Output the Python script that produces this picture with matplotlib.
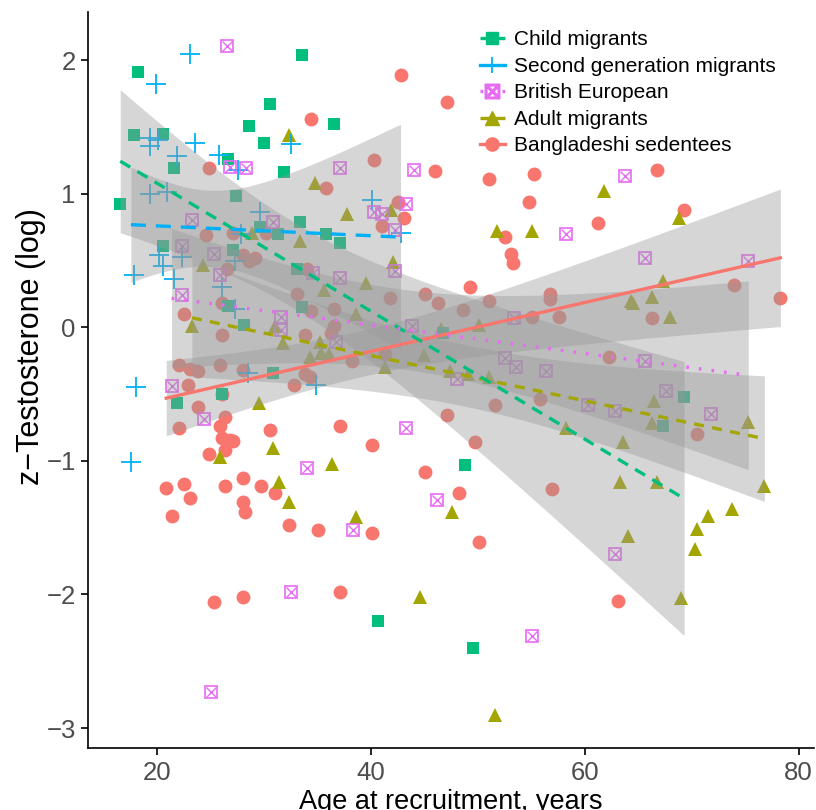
import numpy as np
import matplotlib
matplotlib.use("Agg")
import matplotlib.pyplot as plt
from matplotlib.lines import Line2D

plt.rcParams['font.family'] = ['Liberation Sans', 'DejaVu Sans']

# ---- data: (age, z-testosterone) per group ----
child_age = [18.3, 17.9, 20.6, 26.7, 21.6, 28.6, 30.0, 30.6, 27.4, 16.6, 29.7, 20.6, 27.1, 26.7,
             28.2, 21.9, 26.1, 33.6, 36.6, 31.9, 33.4, 31.3, 35.8, 37.1, 33.1, 33.6, 30.9, 40.7,
             46.8, 48.8, 49.6, 69.3, 67.3]
child_z = [1.91, 1.44, 1.45, 1.26, 1.19, 1.51, 1.38, 1.67, 0.98, 0.92, 0.75, 0.61, 0.58, 0.16,
           0.02, -0.57, -0.50, 2.04, 1.52, 1.16, 0.79, 0.70, 0.70, 0.63, 0.44, 0.15, -0.34, -2.20,
           -0.04, -1.03, -2.40, -0.52, -0.74]

second_age = [23.1, 19.9, 19.4, 19.4, 20.1, 23.6, 21.9, 25.8, 27.6, 19.4, 21.0, 29.7, 27.9, 20.2,
              20.6, 22.4, 27.3, 17.9, 21.6, 26.1, 27.3, 28.5, 18.1, 17.6, 32.6, 40.1, 42.8, 34.9]
second_z = [2.05, 1.82, 1.42, 1.36, 1.40, 1.38, 1.28, 1.29, 1.18, 1.00, 1.01, 0.86, 0.70, 0.54,
            0.46, 0.53, 0.50, 0.39, 0.36, 0.30, 0.14, -0.34, -0.45, -1.01, 1.37, 0.95, 0.71, -0.43]

british_age = [26.6, 26.9, 28.4, 23.3, 22.4, 25.4, 25.9, 22.4, 21.4, 24.4, 25.1, 37.1, 44.1, 43.3,
               40.3, 41.1, 42.3, 30.9, 42.3, 34.6, 37.1, 31.6, 31.6, 43.9, 36.8, 43.3, 34.1, 46.2,
               38.4, 32.6, 63.8, 58.3, 53.4, 52.6, 53.6, 56.4, 48.1, 60.3, 62.8, 65.6, 75.3, 65.6,
               67.6, 71.8, 62.8, 55.1]
british_z = [2.11, 1.20, 1.19, 0.80, 0.61, 0.55, 0.39, 0.24, -0.44, -0.69, -2.73, 1.19, 1.18, 0.92,
             0.86, 0.85, 0.73, 0.79, 0.42, 0.41, 0.37, 0.08, -0.02, 0.01, -0.11, -0.75, -1.05, -1.29,
             -1.52, -1.98, 1.13, 0.70, 0.07, -0.23, -0.30, -0.33, -0.39, -0.58, -0.63, 0.52, 0.50, -0.25,
             -0.48, -0.65, -1.70, -2.31]

adult_age = [28.9, 24.3, 23.3, 29.6, 25.9, 32.4, 34.8, 37.8, 41.9, 33.4, 42.1, 39.6, 35.6, 38.6,
             31.1, 31.8, 35.3, 35.4, 36.1, 34.3, 45.0, 41.3, 30.9, 36.4, 31.4, 32.4, 38.6, 44.6,
             61.8, 51.8, 55.1, 50.1, 46.6, 47.4, 49.1, 51.1, 58.3, 63.6, 63.3, 68.8, 67.3,
             64.3, 64.5, 66.3, 68.0, 66.5, 66.3, 75.3, 47.6, 66.8, 76.8, 64.1, 71.5, 73.8, 70.5,
             70.3, 69.0, 51.6]
adult_z = [0.71, 0.47, 0.01, -0.57, -0.97, 1.44, 1.08, 0.85, 0.88, 0.65, 0.49, 0.33, 0.28, 0.10,
           0.01, -0.12, -0.11, -0.19, -0.20, -0.22, -0.21, -0.30, -0.90, -1.02, -1.16, -1.31, -1.42, -2.02,
           1.02, 0.72, 0.72, 0.02, -0.01, -0.33, -0.35, -0.37, -0.75, -0.86, -1.16, 0.82, 0.35,
           0.20, 0.18, 0.23, 0.08, -0.55, -0.72, -0.71, -1.38, -1.16, -1.19, -1.56, -1.41, -1.36, -1.51,
           -1.66, -2.03, -2.90]

bangla_age = [24.9, 24.6, 27.1, 30.2, 28.1, 28.6, 29.2, 26.6, 26.1, 22.6, 26.1, 22.1, 23.1, 23.9,
              25.9, 28.1, 22.9, 26.1, 23.9, 22.1, 26.4, 25.9, 26.1, 26.9, 27.1, 26.4, 24.9, 20.9,
              22.6, 23.1, 21.4, 26.4, 28.1, 29.8, 28.1, 28.3, 25.4, 28.1,
              42.8, 34.4, 40.3, 46.0, 35.8, 42.6, 43.1, 41.1, 34.1, 33.1, 41.8, 45.1, 46.3, 34.4,
              36.6, 36.6, 36.3, 33.9, 38.3, 41.3, 33.9, 34.3, 32.8, 30.6, 37.1, 40.1, 45.1, 31.1,
              32.4, 35.1, 40.1, 37.1,
              47.1, 51.1, 55.3, 54.8, 61.3, 52.6, 53.1, 53.3, 49.3, 48.6, 51.1, 56.8, 56.8, 55.1,
              57.6, 62.3, 51.6, 55.8, 47.1, 49.8, 48.3, 57.0, 66.8, 69.3, 74.0, 78.3, 66.3, 70.5,
              50.1, 63.1]
bangla_z = [1.19, 0.69, 0.71, 0.71, 0.54, 0.50, 0.52, 0.44, 0.18, 0.10, -0.06, -0.28, -0.31, -0.33,
            -0.28, -0.32, -0.43, -0.50, -0.60, -0.75, -0.67, -0.74, -0.83, -0.84, -0.85, -0.92, -0.95, -1.20,
            -1.17, -1.28, -1.41, -1.19, -1.13, -1.19, -1.31, -1.38, -2.06, -2.02,
            1.89, 1.56, 1.25, 1.17, 1.04, 0.94, 0.82, 0.76, 0.44, 0.25, 0.22, 0.25, 0.18, 0.12,
            0.14, 0.01, -0.04, -0.06, -0.25, -0.20, -0.35, -0.37, -0.43, -0.77, -0.74, -0.88, -1.08, -1.24,
            -1.48, -1.52, -1.54, -1.98,
            1.69, 1.11, 1.15, 0.94, 0.78, 0.68, 0.55, 0.48, 0.30, 0.13, 0.20, 0.25, 0.21, 0.08,
            0.08, -0.22, -0.58, -0.54, -0.66, -0.86, -1.24, -1.21, 1.18, 0.88, 0.32, 0.22, 0.07, -0.80,
            -1.61, -2.05]

# group order as drawn (factor levels), legend order separately
groups = [
    ("Bangladeshi sedentees", bangla_age, bangla_z, "#F8766D", "o", "-", 10),
    ("Adult migrants", adult_age, adult_z, "#A3A500", "^", (0, (3, 2.5)), 10.5),
    ("Child migrants", child_age, child_z, "#00BF7D", "s", (0, (3.5, 2.5)), 8.5),
    ("Second generation migrants", second_age, second_z, "#00B0F6", "+", (0, (4.5, 3)), 14),
    ("British European", british_age, british_z, "#E76BF3", "box", (0, (0.8, 3)), 8.5),
]
legend_order = ["Child migrants", "Second generation migrants", "British European",
                "Adult migrants", "Bangladeshi sedentees"]


def t975(df):
    z = 1.959964
    return z + (z**3 + z) / (4 * df) + (5 * z**5 + 16 * z**3 + 3 * z) / (96 * df**2)


fig = plt.figure(figsize=(8.16, 8.10), dpi=100)
ax = fig.add_axes([0.108, 0.0765, 0.889, 0.9085])

# points first
for name, xs, ys, col, mk, ls, ms in groups:
    xs = np.array(xs); ys = np.array(ys)
    if mk == "+":
        ax.plot(xs, ys, linestyle="none", marker=mk, color=col, ms=ms, mew=1.3, zorder=2)
    elif mk == "box":
        ax.plot(xs, ys, linestyle="none", marker="s", mfc="none", mec=col, ms=ms, mew=1.2, zorder=2)
        ax.plot(xs, ys, linestyle="none", marker="x", color=col, ms=ms - 1, mew=1.0, zorder=2)
    else:
        ax.plot(xs, ys, linestyle="none", marker=mk, color=col, ms=ms, mew=0, zorder=2)

# linear fits with 95% confidence ribbons
handles = {}
for name, xs, ys, col, mk, ls, ms in groups:
    x = np.array(xs); y = np.array(ys)
    n = len(x)
    b, a = np.polyfit(x, y, 1)
    xg = np.linspace(x.min(), x.max(), 80)
    yg = a + b * xg
    resid = y - (a + b * x)
    s = np.sqrt(np.sum(resid**2) / (n - 2))
    sxx = np.sum((x - x.mean())**2)
    se = s * np.sqrt(1 / n + (xg - x.mean())**2 / sxx)
    tq = t975(n - 2)
    ax.fill_between(xg, yg - tq * se, yg + tq * se, color="#999999", alpha=0.4, lw=0, zorder=3)
    ax.plot(xg, yg, color=col, lw=2.4, linestyle=ls, zorder=4)
    if mk == "+":
        h = Line2D([], [], color=col, lw=2.4, linestyle="-", marker="+", ms=12, mew=1.3)
    elif mk == "box":
        h = Line2D([], [], color=col, lw=2.4, linestyle=(0, (0.8, 2.5)), marker=r"$\boxtimes$", ms=10.5)
    else:
        h = Line2D([], [], color=col, lw=2.4, linestyle="-" if mk == "o" else (0, (3, 1.5)),
                   marker=mk, ms=ms - 0.5)
    handles[name] = h

ax.set_xlim(13.6, 81.4)
ax.set_ylim(-3.15, 2.36)
ax.set_xticks([20, 40, 60, 80])
ax.set_yticks([-3, -2, -1, 0, 1, 2])
ax.set_yticklabels(["\u22123", "\u22122", "\u22121", "0", "1", "2"])
for sp in ["top", "right"]:
    ax.spines[sp].set_visible(False)
for sp in ["left", "bottom"]:
    ax.spines[sp].set_linewidth(1.2)
ax.tick_params(direction="out", length=5, width=1.2, labelsize=18.5, labelcolor="#4D4D4D", pad=4)
ax.set_xlabel("Age at recruitment, years", fontsize=19.5, labelpad=3)
ax.set_ylabel("z\u2212Testosterone (log)", fontsize=22)
ax.yaxis.set_label_coords(-0.058, 0.545)

leg = ax.legend([handles[k] for k in legend_order], legend_order, loc="upper left",
                bbox_to_anchor=(0.52, 0.995), frameon=False, fontsize=15,
                handlelength=1.2, handletextpad=0.45, labelspacing=0.36, borderaxespad=0.3)

fig.savefig("out.png", dpi=100)
